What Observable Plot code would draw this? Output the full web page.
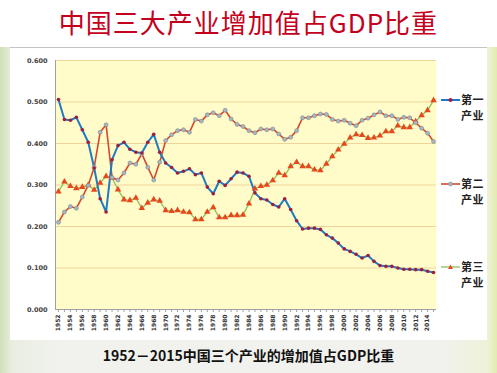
<!DOCTYPE html>
<html><head><meta charset="utf-8">
<script src="https://cdn.jsdelivr.net/npm/d3@7"></script>
<script src="https://cdn.jsdelivr.net/npm/@observablehq/plot@0.6"></script>
<style>
html,body{margin:0;padding:0;}
body{width:497px;height:373px;overflow:hidden;position:relative;font-family:"Noto Sans CJK SC","Noto Sans",sans-serif;
background:linear-gradient(to right,#cfe0b8 0px,#e9eee0 12px,#f1f2ee 60px,#f1f2ee 440px,#eef2d8 487px,#e2ecae 497px);}
#top{position:absolute;left:0;top:0;width:497px;height:47px;background:#fff;}
#title{position:absolute;left:0;top:5px;width:497px;text-align:center;color:#c4001c;font-size:26px;letter-spacing:1px;line-height:34px;white-space:nowrap;}
#rule{position:absolute;left:10px;top:47px;width:477px;height:1px;background:#c4c4c4;}
#panel{position:absolute;left:10px;top:48px;width:477px;height:292px;background:#fff;}
#chart{position:absolute;left:10px;top:48px;}
#caption{position:absolute;left:0;top:345px;width:497px;text-align:center;font-size:14px;font-weight:700;color:#111;line-height:20px;white-space:nowrap;}
.lm{position:absolute;left:441px;width:19px;height:8px;}
.lt{position:absolute;left:461px;font-size:11px;font-weight:700;line-height:11px;height:11px;color:#222;white-space:nowrap;letter-spacing:0.5px;}
</style>
</head><body>
<div id="top"><div id="title">中国三大产业增加值占GDP比重</div></div>
<div id="rule"></div>
<div id="panel"></div>
<div id="chart"></div>
<svg class="lm" style="top:96px"><line x1="0" y1="4" x2="19" y2="4" stroke="#1F7AC4" stroke-width="2"/><circle cx="9.5" cy="4" r="2" fill="#A01E3C"/></svg>
<div class="lt" style="top:94px">第一</div>
<div class="lt" style="top:110px">产业</div>
<svg class="lm" style="top:180px"><line x1="0" y1="4" x2="19" y2="4" stroke="#D5472F" stroke-width="1.6"/><circle cx="9.5" cy="4" r="2" fill="#A9B6BE" stroke="#7E8C96" stroke-width="0.6"/></svg>
<div class="lt" style="top:178px">第二</div>
<div class="lt" style="top:194px">产业</div>
<svg class="lm" style="top:263px"><line x1="0" y1="4" x2="19" y2="4" stroke="#8CC05A" stroke-width="1.3"/><path d="M9.5,1.5 L12,6 L7,6 Z" fill="#E8461C"/></svg>
<div class="lt" style="top:261px">第三</div>
<div class="lt" style="top:277px">产业</div>
<div id="caption">1952－2015中国三个产业的增加值占GDP比重</div>
<script>
const years = [1952,1953,1954,1955,1956,1957,1958,1959,1960,1961,1962,1963,1964,1965,1966,1967,1968,1969,1970,1971,1972,1973,1974,1975,1976,1977,1978,1979,1980,1981,1982,1983,1984,1985,1986,1987,1988,1989,1990,1991,1992,1993,1994,1995,1996,1997,1998,1999,2000,2001,2002,2003,2004,2005,2006,2007,2008,2009,2010,2011,2012,2013,2014,2015];
const primary = [0.506,0.458,0.456,0.463,0.433,0.403,0.341,0.267,0.235,0.361,0.395,0.403,0.386,0.379,0.377,0.403,0.422,0.379,0.353,0.342,0.329,0.333,0.339,0.325,0.329,0.295,0.279,0.309,0.299,0.315,0.331,0.329,0.321,0.281,0.267,0.264,0.253,0.247,0.267,0.241,0.214,0.194,0.196,0.196,0.193,0.180,0.172,0.160,0.146,0.140,0.133,0.124,0.130,0.116,0.106,0.104,0.104,0.100,0.097,0.097,0.096,0.096,0.092,0.089];
const secondary = [0.210,0.235,0.248,0.244,0.271,0.299,0.343,0.427,0.445,0.318,0.312,0.329,0.353,0.350,0.375,0.343,0.312,0.355,0.407,0.421,0.431,0.433,0.427,0.458,0.454,0.469,0.474,0.467,0.480,0.459,0.446,0.441,0.431,0.426,0.435,0.433,0.435,0.423,0.410,0.415,0.431,0.462,0.462,0.467,0.471,0.470,0.458,0.454,0.456,0.449,0.443,0.456,0.461,0.469,0.476,0.467,0.467,0.458,0.463,0.462,0.450,0.437,0.425,0.405];
const tertiary = [0.284,0.308,0.297,0.292,0.295,0.300,0.288,0.305,0.321,0.317,0.289,0.265,0.263,0.269,0.244,0.257,0.265,0.262,0.239,0.237,0.239,0.235,0.234,0.217,0.217,0.235,0.246,0.222,0.222,0.227,0.227,0.228,0.255,0.291,0.297,0.300,0.311,0.329,0.323,0.345,0.355,0.345,0.345,0.337,0.335,0.351,0.369,0.385,0.399,0.414,0.422,0.420,0.413,0.414,0.419,0.429,0.429,0.443,0.439,0.439,0.453,0.468,0.480,0.504];
const labelYears = [1952,1954,1956,1958,1960,1962,1964,1966,1968,1970,1972,1974,1976,1978,1980,1982,1984,1986,1988,1990,1992,1994,1996,1998,2000,2002,2004,2006,2008,2010,2012,2014];
const yTicks = [0,0.1,0.2,0.3,0.4,0.5,0.6];

const rows = years.map((y,i)=>({year:y, primary:primary[i], secondary:secondary[i], tertiary:tertiary[i]}));

const chart = Plot.plot({
  width:477, height:292,
  marginLeft:45, marginTop:12, marginRight:51, marginBottom:31,
  style:{background:"transparent", fontFamily:"'DejaVu Sans',sans-serif", overflow:"visible"},
  x:{domain:[1951.5,2015.5], label:null},
  y:{domain:[0,0.6], label:null},
  marks:[
    Plot.frame({fill:"#FFFCC9", stroke:null}),
    Plot.gridY(yTicks,{stroke:"#F0D59A", strokeOpacity:1}),
    Plot.ruleX([1951.5],{stroke:"#a0a0a0"}),
    Plot.ruleY([0],{stroke:"#a0a0a0"}),
    Plot.axisX(years,{tickSize:3, tickFormat:()=>"", stroke:"#a0a0a0", label:null}),
    Plot.axisX(labelYears,{tickSize:0, tickPadding:5, tickRotate:-90, tickFormat:d=>String(d), fontSize:6, fontWeight:700, fill:"#333", label:null}),
    Plot.axisY(yTicks,{tickSize:0, tickPadding:8, tickFormat:d3.format(".3f"), fontSize:6.5, fontWeight:700, fill:"#444", label:null}),
    Plot.line(rows,{x:"year", y:"tertiary", stroke:"#8CC05A", strokeWidth:1.3}),
    Plot.line(rows,{x:"year", y:"secondary", stroke:"#D5472F", strokeWidth:1.6}),
    Plot.line(rows,{x:"year", y:"primary", stroke:"#1F7AC4", strokeWidth:2}),
    Plot.dot(rows,{x:"year", y:"tertiary", symbol:"triangle", r:2.4, fill:"#E8461C"}),
    Plot.dot(rows,{x:"year", y:"secondary", r:2, fill:"#A9B6BE", stroke:"#7E8C96", strokeWidth:0.6}),
    Plot.dot(rows,{x:"year", y:"primary", r:1.8, fill:"#A01E3C"})
  ]
});
document.getElementById("chart").appendChild(chart);
</script>
</body></html>
